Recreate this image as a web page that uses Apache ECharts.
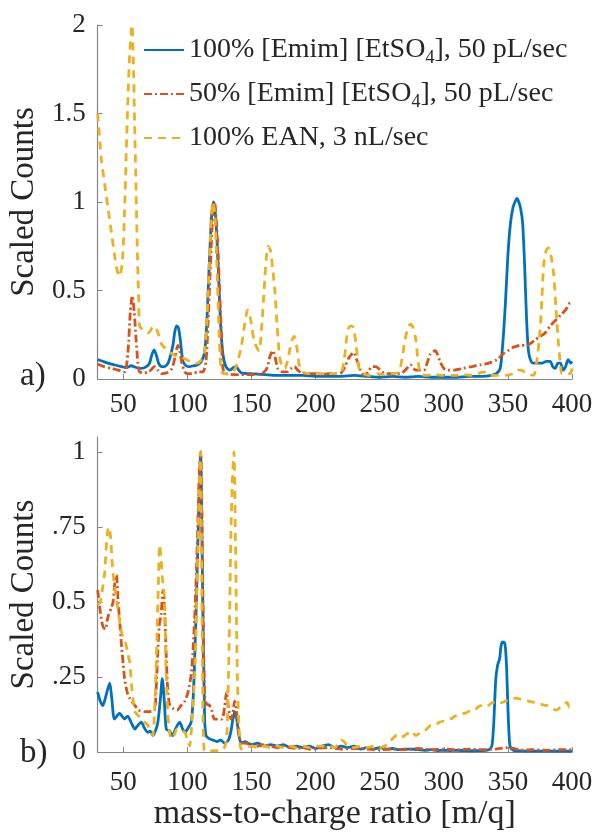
<!DOCTYPE html>
<html><head><meta charset="utf-8">
<script src="https://cdn.jsdelivr.net/npm/echarts@6/dist/echarts.min.js"></script>
<style>html,body{margin:0;padding:0;background:#fff}#c{width:598px;height:832px}</style>
</head><body><div id="c"></div>
<script>
const seriesNames = ['100% [Emim] [EtSO4], 50 pL/sec', '50% [Emim] [EtSO4], 50 pL/sec', '100% EAN, 3 nL/sec'];
const xTicks = [50, 100, 150, 200, 250, 300, 350, 400];
const topYTicks = [0, 0.5, 1, 1.5, 2];
const topYLabels = ['0', '0.5', '1', '1.5', '2'];
const botYTicks = [0, 0.25, 0.5, 0.75, 1];
const botYLabels = ['0', '.25', '0.5', '.75', '1'];
const panelLabels = ['a)', 'b)'];

// Panel a) [m/q, scaled counts]
const topBlue = [[30,0.11],[34,0.10],[38,0.09],[43,0.08],[48.5,0.07],[53,0.065],[56,0.075],[60,0.065],[64,0.06],[68,0.07],[70.5,0.09],[72,0.13],[74,0.165],[76,0.13],[77.5,0.09],[80,0.07],[82,0.07],[85,0.09],[88.7,0.19],[90,0.26],[91.5,0.30],[93,0.29],[94.5,0.22],[96.5,0.10],[99,0.075],[101.7,0.07],[105,0.075],[108,0.08],[111,0.1],[113.4,0.15],[115,0.3],[116.5,0.55],[118,0.8],[119,0.93],[120.3,1.0],[121.5,0.96],[123,0.8],[124.5,0.55],[126,0.3],[127.7,0.14],[130,0.07],[133,0.05],[136,0.065],[138,0.07],[140,0.05],[142,0.035],[150,0.03],[160,0.025],[170,0.02],[180,0.02],[190,0.02],[200,0.015],[210,0.015],[220,0.015],[230,0.02],[240,0.015],[250,0.01],[260,0.015],[270,0.01],[280,0.015],[290,0.01],[300,0.01],[310,0.01],[320,0.015],[330,0.015],[337,0.02],[341,0.03],[344,0.06],[346,0.2],[348,0.42],[350,0.7],[352,0.88],[354,0.97],[355.5,1.0],[357,1.02],[358.5,1.0],[360,0.96],[361.5,0.88],[363,0.65],[364.5,0.35],[366,0.16],[368,0.1],[370,0.09],[374,0.09],[377,0.09],[380,0.1],[383,0.1],[385,0.07],[387,0.06],[389,0.09],[391,0.09],[393,0.05],[395,0.07],[397,0.11],[399,0.09],[400,0.1]];
const topRed = [[30,0.085],[35,0.07],[40.7,0.06],[46,0.05],[51,0.04],[53.6,0.15],[55.5,0.38],[57,0.47],[58.5,0.38],[60,0.22],[61.5,0.08],[62.7,0.04],[66,0.035],[70,0.04],[74.4,0.07],[77,0.05],[80,0.03],[84,0.035],[88,0.06],[90.5,0.13],[92.6,0.19],[94,0.16],[95.7,0.09],[98,0.04],[100,0.03],[104,0.03],[108,0.04],[112,0.04],[114.5,0.1],[116,0.3],[117.3,0.52],[119,0.82],[120.2,0.97],[121.2,1.0],[122.5,0.9],[124,0.7],[125,0.52],[126.5,0.25],[127.7,0.06],[130,0.03],[140,0.025],[150,0.025],[158,0.03],[162,0.06],[164.5,0.13],[166.6,0.16],[168.5,0.12],[170.5,0.06],[174,0.04],[178,0.04],[181,0.06],[183.5,0.07],[186,0.05],[189,0.035],[195,0.03],[200,0.03],[205,0.025],[210,0.03],[216,0.03],[220,0.035],[223,0.07],[226,0.12],[229.8,0.15],[232,0.11],[235,0.05],[238,0.02],[241,0.04],[244,0.07],[247,0.07],[249,0.06],[252,0.04],[255.8,0.03],[260,0.03],[266,0.03],[270,0.05],[274,0.08],[278,0.05],[281,0.05],[284.5,0.05],[287,0.09],[289.5,0.14],[293.4,0.16],[295,0.14],[297,0.1],[300,0.06],[302.6,0.05],[308,0.05],[315,0.06],[322,0.07],[328.5,0.08],[335,0.09],[341.5,0.11],[346,0.14],[350,0.16],[354.5,0.18],[360,0.19],[364,0.19],[367.5,0.2],[371,0.22],[375,0.24],[379,0.26],[383,0.3],[387,0.33],[391,0.36],[395,0.39],[398.7,0.43],[400,0.43]];
const topYellow = [[30,1.5],[32.9,1.24],[35.5,1.1],[38,0.97],[40.5,0.84],[43,0.71],[45,0.62],[47,0.58],[48.5,0.62],[49.7,0.71],[51,0.95],[52.3,1.28],[53.7,1.6],[55,1.84],[56.8,2.0],[57.8,1.8],[58.8,1.46],[60,1.05],[61,0.71],[62,0.45],[62.7,0.3],[65,0.28],[67,0.27],[69.2,0.26],[71,0.27],[72.5,0.29],[74.4,0.3],[76,0.28],[78,0.24],[79.6,0.2],[83,0.17],[87.4,0.145],[91,0.13],[95,0.125],[99,0.11],[102,0.1],[105.6,0.09],[108,0.09],[110,0.1],[112,0.12],[113.5,0.16],[115,0.3],[116.5,0.55],[118,0.82],[118.6,0.92],[120,1.0],[121.5,0.92],[123,0.65],[124.3,0.35],[125.5,0.12],[126.4,0.05],[128,0.03],[131,0.03],[135,0.035],[138,0.07],[140,0.12],[142,0.18],[144.5,0.3],[147,0.39],[149,0.35],[150.5,0.28],[152,0.22],[154,0.18],[156,0.16],[158,0.3],[160,0.52],[161.5,0.68],[163,0.75],[165,0.72],[166.5,0.62],[168,0.52],[170,0.3],[172,0.12],[174,0.07],[176,0.06],[178,0.1],[180,0.17],[181.5,0.22],[183.5,0.24],[185.5,0.17],[187.5,0.07],[190,0.04],[195,0.03],[200,0.035],[205,0.03],[208,0.04],[211.6,0.03],[216,0.03],[220,0.035],[222.5,0.12],[224.5,0.25],[225.9,0.29],[228,0.3],[229.5,0.29],[231.5,0.2],[233.4,0.08],[235,0.04],[237.3,0.03],[242,0.02],[248,0.03],[254,0.025],[260,0.03],[265,0.04],[267.5,0.12],[270,0.23],[272,0.29],[274,0.31],[276,0.29],[278,0.23],[280,0.1],[281.8,0.03],[286,0.02],[292,0.025],[300,0.02],[308,0.02],[315,0.025],[322,0.02],[331,0.04],[336,0.02],[342,0.02],[348,0.02],[354,0.03],[358,0.05],[360,0.05],[363,0.04],[366,0.03],[370,0.02],[372.5,0.1],[375,0.27],[376.5,0.45],[378,0.65],[380,0.73],[381.8,0.74],[383.5,0.7],[385.6,0.6],[387.5,0.4],[389.5,0.19],[391,0.08],[392,0.03],[395,0.03],[398.7,0.03],[400,0.06]];

// Panel b)
const botBlue = [[30,0.2],[32,0.17],[34,0.155],[36,0.18],[39.4,0.23],[41,0.18],[43,0.11],[45,0.12],[47,0.13],[49,0.12],[51,0.11],[53.4,0.12],[56,0.1],[59,0.077],[61.5,0.09],[64,0.1],[66.5,0.08],[69,0.066],[71,0.07],[73,0.055],[75,0.07],[77,0.1],[79,0.18],[80.4,0.245],[82,0.17],[83.5,0.077],[86,0.07],[88.5,0.055],[91,0.08],[94,0.1],[96,0.08],[98,0.066],[100.5,0.08],[103,0.1],[104.5,0.18],[105.6,0.3],[107,0.5],[108.5,0.75],[109.5,0.92],[110.3,1.0],[111,0.85],[112,0.5],[113.4,0.12],[114.5,0.055],[117,0.045],[120,0.04],[123,0.035],[126,0.04],[129,0.03],[132,0.04],[134,0.07],[135.5,0.11],[137,0.135],[138.5,0.11],[140,0.06],[142,0.03],[145,0.035],[150,0.025],[155,0.03],[160,0.02],[165,0.025],[170,0.02],[175,0.025],[180,0.015],[185,0.02],[190,0.015],[195,0.02],[200,0.012],[205,0.02],[210,0.025],[215,0.015],[220,0.02],[225,0.015],[230,0.02],[235,0.01],[240,0.015],[245,0.01],[250,0.015],[255,0.01],[260,0.012],[265,0.008],[270,0.01],[275,0.01],[280,0.008],[285,0.006],[290,0.008],[295,0.005],[300,0.006],[305,0.005],[310,0.006],[315,0.005],[320,0.004],[325,0.005],[330,0.005],[335,0.008],[337.5,0.02],[339,0.1],[340.5,0.24],[342,0.29],[343.5,0.31],[344.5,0.35],[345.5,0.366],[347,0.366],[348,0.35],[349,0.28],[350,0.15],[351,0.05],[352,0.015],[355,0.005],[360,0.004],[370,0.003],[380,0.003],[390,0.003],[400,0.003]];
const botRed = [[30,0.54],[32,0.47],[34,0.42],[36,0.41],[38,0.45],[40.6,0.48],[42,0.5],[43.5,0.57],[44.6,0.59],[46,0.5],[47.5,0.42],[48.5,0.36],[50,0.29],[51,0.245],[53,0.2],[55,0.18],[58.8,0.157],[62,0.14],[66.6,0.135],[70,0.135],[74.4,0.14],[75.5,0.2],[76.8,0.32],[78,0.42],[79.5,0.46],[81,0.54],[82,0.5],[83,0.38],[84.5,0.22],[86,0.16],[89,0.145],[92,0.14],[95,0.155],[98,0.17],[100.5,0.2],[103,0.26],[104.5,0.35],[105.6,0.44],[107,0.6],[108.5,0.82],[109.5,0.95],[110.3,1.0],[111,0.9],[112,0.55],[113.4,0.19],[115,0.16],[117,0.157],[119,0.14],[121,0.11],[124,0.11],[127,0.11],[129,0.15],[130.5,0.2],[132,0.15],[134,0.11],[135.5,0.13],[136.8,0.17],[138.5,0.13],[140,0.07],[142,0.03],[145,0.03],[150,0.025],[155,0.02],[160,0.025],[165,0.02],[170,0.015],[175,0.02],[180,0.015],[185,0.012],[190,0.015],[195,0.01],[200,0.012],[210,0.015],[220,0.01],[230,0.012],[240,0.01],[250,0.008],[260,0.01],[270,0.008],[280,0.012],[290,0.008],[300,0.01],[310,0.008],[320,0.01],[330,0.008],[340,0.01],[350,0.015],[355,0.012],[360,0.006],[370,0.008],[380,0.006],[390,0.008],[400,0.008]];
const botYellow = [[30,0.49],[32,0.5],[34,0.55],[35.5,0.6],[37,0.7],[38.5,0.75],[40,0.72],[41.5,0.62],[43,0.56],[45,0.5],[47,0.44],[48.5,0.4],[50,0.38],[52,0.36],[53.5,0.33],[55,0.3],[56.5,0.22],[58,0.16],[59,0.135],[62,0.12],[64,0.11],[66.5,0.1],[69,0.09],[71,0.07],[73,0.055],[74.5,0.15],[75.7,0.3],[77,0.5],[78.4,0.69],[79.5,0.64],[80.5,0.58],[82,0.52],[83.2,0.3],[84.6,0.135],[86,0.07],[87.4,0.044],[90,0.06],[92,0.077],[95,0.07],[98,0.066],[100,0.04],[101.7,0.02],[103.5,0.1],[105.6,0.25],[107,0.45],[108.5,0.75],[109.5,0.92],[110.3,1.0],[111,0.7],[112,0.2],[113,0.01],[116,0.0],[120,0.005],[124,0.005],[128,0.01],[130,0.03],[131,0.077],[132.5,0.35],[134,0.74],[135.2,0.92],[136.3,1.0],[137.5,0.7],[139,0.245],[140.5,0.06],[142,0.01],[146,0.015],[150,0.02],[155,0.015],[160,0.02],[165,0.015],[170,0.02],[175,0.015],[180,0.02],[185,0.015],[190,0.02],[195,0.015],[200,0.02],[205,0.02],[210,0.02],[215,0.015],[218,0.03],[220,0.04],[222,0.036],[225,0.02],[230,0.015],[235,0.02],[240,0.015],[245,0.02],[250,0.015],[255.8,0.024],[259,0.04],[263.6,0.057],[267,0.05],[271,0.06],[275,0.07],[278,0.055],[282,0.066],[286,0.075],[289.5,0.088],[293,0.09],[297,0.1],[301,0.105],[305,0.11],[309,0.12],[313,0.127],[317,0.13],[320.7,0.138],[324,0.14],[328.5,0.155],[333,0.15],[336,0.16],[338.7,0.166],[342,0.17],[345,0.165],[349,0.172],[353,0.175],[356,0.18],[359.7,0.177],[363,0.172],[366,0.17],[370,0.166],[373,0.16],[377,0.158],[380.5,0.155],[384,0.145],[388,0.14],[391,0.15],[394,0.16],[396,0.166],[398,0.15],[400,0.16]];

const FONT = "'Liberation Serif', 'Times New Roman', Times, 'DejaVu Serif', serif";
const TXT = '#262626';
const AXC = '#868686';
const colors = ['#0072BD', '#D95319', '#EDB120'];
const styles = [
  { width: 2.8, type: 'solid' },
  { width: 2.8, type: [8, 3, 2, 3] },
  { width: 2.8, type: [8, 6] }
];

function xAxisCfg(gridIndex, margin, withName) {
  const a = {
    type: 'value', gridIndex, min: 30, max: 400,
    axisLine: { show: true, lineStyle: { color: AXC, width: 1.2 } },
    axisTick: { show: true, inside: true, length: 5, customValues: xTicks, lineStyle: { color: AXC } },
    axisLabel: { customValues: xTicks, color: TXT, fontFamily: FONT, fontSize: 27, margin },
    splitLine: { show: false }
  };
  if (withName) {
    a.name = 'mass-to-charge ratio [m/q]';
    a.nameLocation = 'middle';
    a.nameGap = 43;
    a.nameTextStyle = { color: TXT, fontFamily: FONT, fontSize: 34 };
  }
  return a;
}
function yAxisCfg(gridIndex, max, ticks, labels) {
  return {
    type: 'value', gridIndex, min: 0, max,
    name: 'Scaled Counts', nameLocation: 'middle', nameRotate: 90, nameGap: 54,
    nameTextStyle: { color: TXT, fontFamily: FONT, fontSize: 33 },
    axisLine: { show: true, lineStyle: { color: AXC, width: 1.2 } },
    axisTick: { show: true, inside: true, length: 5, customValues: ticks, lineStyle: { color: AXC } },
    axisLabel: {
      customValues: ticks, color: TXT, fontFamily: FONT, fontSize: 27, margin: 12,
      formatter: v => { const i = ticks.findIndex(t => Math.abs(t - v) < 1e-6); return i >= 0 ? labels[i] : ''; }
    },
    splitLine: { show: false }
  };
}
function mk(name, data, k, idx) {
  return {
    name, type: 'line', data, xAxisIndex: idx, yAxisIndex: idx,
    showSymbol: false, symbol: 'none', smooth: 0.25, z: 2 + k,
    lineStyle: { color: colors[k], width: styles[k].width, type: styles[k].type },
    itemStyle: { color: colors[k] }
  };
}

const chart = echarts.init(document.getElementById('c'), null, { renderer: 'canvas' });
chart.setOption({
  animation: false,
  backgroundColor: '#fff',
  grid: [
    { left: 97, top: 25, width: 475, height: 354 },
    { left: 97, top: 437, width: 475, height: 317 }
  ],
  xAxis: [xAxisCfg(0, 12, false), xAxisCfg(1, 17, true)],
  yAxis: [yAxisCfg(0, 2, topYTicks, topYLabels), yAxisCfg(1, 1.05, botYTicks, botYLabels)],
  legend: {
    data: seriesNames, orient: 'vertical', left: 143, top: 36, itemWidth: 40, itemHeight: 14, itemGap: 13,
    padding: 0, selectedMode: false,
    itemStyle: { opacity: 0 },
    formatter: n => n.replace('SO4', 'SO{sub|4}'),
    textStyle: {
      color: TXT, fontFamily: FONT, fontSize: 28,
      rich: { sub: { fontFamily: FONT, fontSize: 18, color: TXT, padding: [16, 0, 0, 0] } }
    }
  },
  graphic: [
    { type: 'text', left: 20, top: 360, style: { text: panelLabels[0], fontFamily: FONT, fontSize: 33, fill: TXT } },
    { type: 'text', left: 20, top: 737, style: { text: panelLabels[1], fontFamily: FONT, fontSize: 33, fill: TXT } }
  ],
  series: [
    mk(seriesNames[0], topBlue, 0, 0),
    mk(seriesNames[1], topRed, 1, 0),
    mk(seriesNames[2], topYellow, 2, 0),
    mk(seriesNames[0], botBlue, 0, 1),
    mk(seriesNames[1], botRed, 1, 1),
    mk(seriesNames[2], botYellow, 2, 1)
  ]
});
</script></body></html>
